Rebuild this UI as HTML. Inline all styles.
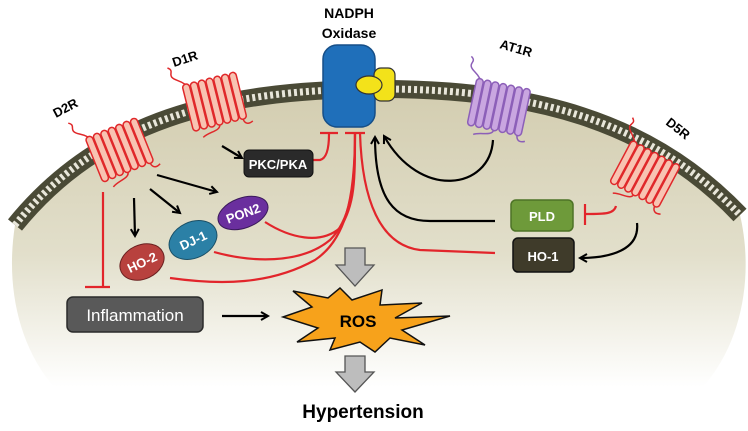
<!DOCTYPE html>
<html><head><meta charset="utf-8"><style>
html,body{margin:0;padding:0;background:#fff;}
svg{display:block;font-family:"Liberation Sans",sans-serif;}
</style></head><body>
<svg width="748" height="431" viewBox="0 0 748 431" xmlns="http://www.w3.org/2000/svg">
<defs>
<linearGradient id="cg" x1="0" y1="90" x2="0" y2="420" gradientUnits="userSpaceOnUse">
<stop offset="0" stop-color="#d3cdb0"/><stop offset="0.5" stop-color="#e2dfcb"/><stop offset="0.9" stop-color="#ffffff"/>
</linearGradient>
<marker id="ah" markerWidth="10" markerHeight="10" refX="8" refY="5" orient="auto" markerUnits="userSpaceOnUse">
<path d="M1,1 L8,5 L1,9" fill="none" stroke="#000" stroke-width="2"/>
</marker>
<g id="rec">
<rect x="0" y="0" width="7" height="48" rx="3.5"/>
<rect x="8" y="0" width="7" height="48" rx="3.5"/>
<rect x="16" y="0" width="7" height="48" rx="3.5"/>
<rect x="24" y="0" width="7" height="48" rx="3.5"/>
<rect x="32" y="0" width="7" height="48" rx="3.5"/>
<rect x="40" y="0" width="7" height="48" rx="3.5"/>
<rect x="48" y="0" width="7" height="48" rx="3.5"/>
<path d="M3,0 C-2,-6 -6,-6 -8,-10 C-10,-14 -4,-16 -10,-20" fill="none"/>
<path d="M51,48 C52,54 56,54 60,52 M27,48 C26,54 14,52 8,56" fill="none"/>
</g>
</defs>
<path d="M15,225 C100,120 220,90 374,89 C530,88 650,120 740,215 C760,300 730,420 600,440 L150,440 C40,420 0,320 15,225 Z" fill="url(#cg)"/>
<path d="M15,225 C100,120 220,90 374,89 C530,88 650,120 740,215" fill="none" stroke="#4a4a36" stroke-width="18"/>
<path d="M15,225 C100,120 220,90 374,89 C530,88 650,120 740,215" fill="none" stroke="#e8e6da" stroke-width="7" stroke-dasharray="3 3"/>

<g transform="translate(85,138) rotate(-22)" fill="#f8c3b2" stroke="#e0282a" stroke-width="1.5"><use href="#rec"/></g>
<g transform="translate(182,85) rotate(-14)" fill="#f8c3b2" stroke="#e0282a" stroke-width="1.5"><use href="#rec"/></g>
<g transform="translate(477,78) rotate(12)" fill="#c9a6e0" stroke="#8c5fb8" stroke-width="1.5"><use href="#rec"/></g>
<g transform="translate(632,140) rotate(28)" fill="#f8c3b2" stroke="#e0282a" stroke-width="1.5"><use href="#rec"/></g>

<g font-weight="bold" font-size="13" fill="#000">
<text transform="translate(56,118) rotate(-28)">D2R</text>
<text transform="translate(174,67) rotate(-18)">D1R</text>
<text transform="translate(499,48) rotate(16)">AT1R</text>
<text transform="translate(665,124) rotate(38)">D5R</text>
<text x="349" y="18" text-anchor="middle" font-size="14">NADPH</text>
<text x="349" y="38" text-anchor="middle" font-size="14">Oxidase</text>
</g>

<rect x="323" y="45" width="52" height="82" rx="14" fill="#1f6fba" stroke="#164f88" stroke-width="1.5"/>
<rect x="374" y="68" width="21" height="33" rx="7" fill="#f3e21a" stroke="#333" stroke-width="1.2"/>
<ellipse cx="369" cy="85" rx="13" ry="9" fill="#f3e21a" stroke="#333" stroke-width="1.2"/>

<g stroke="#e2252b" stroke-width="2.2" fill="none">
<path d="M313,160 L320,160 Q329,158 329,134"/>
<path d="M320,133 L338,133"/>
<path d="M345,133 L365,133"/>
<path d="M355,133 C355,180 355,205 340,228 C320,245 290,238 265,222"/>
<path d="M355,133 C355,190 350,220 330,240 C300,265 250,262 214,252"/>
<path d="M355,133 C355,200 345,240 315,260 C270,285 220,285 170,278"/>
<path d="M360,133 C362,200 380,245 420,250 L495,253"/>
<path d="M103,192 L103,287"/><path d="M85,287 L110,287"/>
<path d="M616,206 C614,214 605,214 586,214"/><path d="M585,204 L585,225"/>
</g>

<g stroke="#000" stroke-width="2.2" fill="none" marker-end="url(#ah)">
<path d="M222,146 L242,158"/>
<path d="M157,175 L217,192"/>
<path d="M150,189 L180,213"/>
<path d="M134,198 L135,236"/>
<path d="M222,316 L268,316"/>
<path d="M493,140 C490,190 420,200 384,136"/>
<path d="M495,221 L430,221 C395,221 375,200 375,137"/>
<path d="M637,223 C640,250 610,258 580,258"/>
</g>

<path d="M345,248 L365,248 L365,265 L374,265 L355,286 L336,265 L345,265 Z" fill="#bdbdbd" stroke="#555" stroke-width="1.3"/>
<path d="M345,356 L365,356 L365,372 L374,372 L355,392 L336,372 L345,372 Z" fill="#bdbdbd" stroke="#555" stroke-width="1.3"/>

<path d="M283,317 L312,307 L293,291 L328,298 L340,288 L352,300 L382,290 L380,305 L422,303 L395,318 L450,316 L402,330 L425,345 L390,338 L375,352 L360,342 L330,350 L335,338 L297,342 L318,328 Z" fill="#f7a21b" stroke="#111" stroke-width="1.5"/>
<text x="358" y="327" text-anchor="middle" font-size="17" font-weight="bold">ROS</text>
<text x="363" y="418" text-anchor="middle" font-size="19" font-weight="bold">Hypertension</text>

<rect x="67" y="297" width="136" height="35" rx="6" fill="#595959" stroke="#2a2a2a" stroke-width="1.5"/>
<text x="135" y="321" text-anchor="middle" font-size="17" fill="#fff">Inflammation</text>
<rect x="244" y="150" width="69" height="27" rx="5" fill="#2a2a2a" stroke="#111"/>
<text x="278" y="169" text-anchor="middle" font-size="13" font-weight="bold" fill="#fff">PKC/PKA</text>
<rect x="511" y="200" width="62" height="31" rx="5" fill="#6e9a3a" stroke="#4d7326" stroke-width="1.5"/>
<text x="542" y="221" text-anchor="middle" font-size="13" font-weight="bold" fill="#fff">PLD</text>
<rect x="513" y="238" width="61" height="34" rx="5" fill="#3f3b2a" stroke="#111" stroke-width="1.5"/>
<text x="543" y="261" text-anchor="middle" font-size="13" font-weight="bold" fill="#fff">HO-1</text>

<g transform="translate(243,213) rotate(-20)"><ellipse rx="26" ry="15" fill="#6a2f9e" stroke="#3a1a5a"/><text y="5" text-anchor="middle" font-size="13" font-weight="bold" fill="#fff">PON2</text></g>
<g transform="translate(193,240) rotate(-25)"><ellipse rx="25" ry="18" fill="#2b80a6" stroke="#1a4f66"/><text y="5" text-anchor="middle" font-size="13" font-weight="bold" fill="#fff">DJ-1</text></g>
<g transform="translate(142,262) rotate(-25)"><ellipse rx="23" ry="17" fill="#b8413e" stroke="#6a2020"/><text y="5" text-anchor="middle" font-size="13" font-weight="bold" fill="#fff">HO-2</text></g>
</svg>
</body></html>
